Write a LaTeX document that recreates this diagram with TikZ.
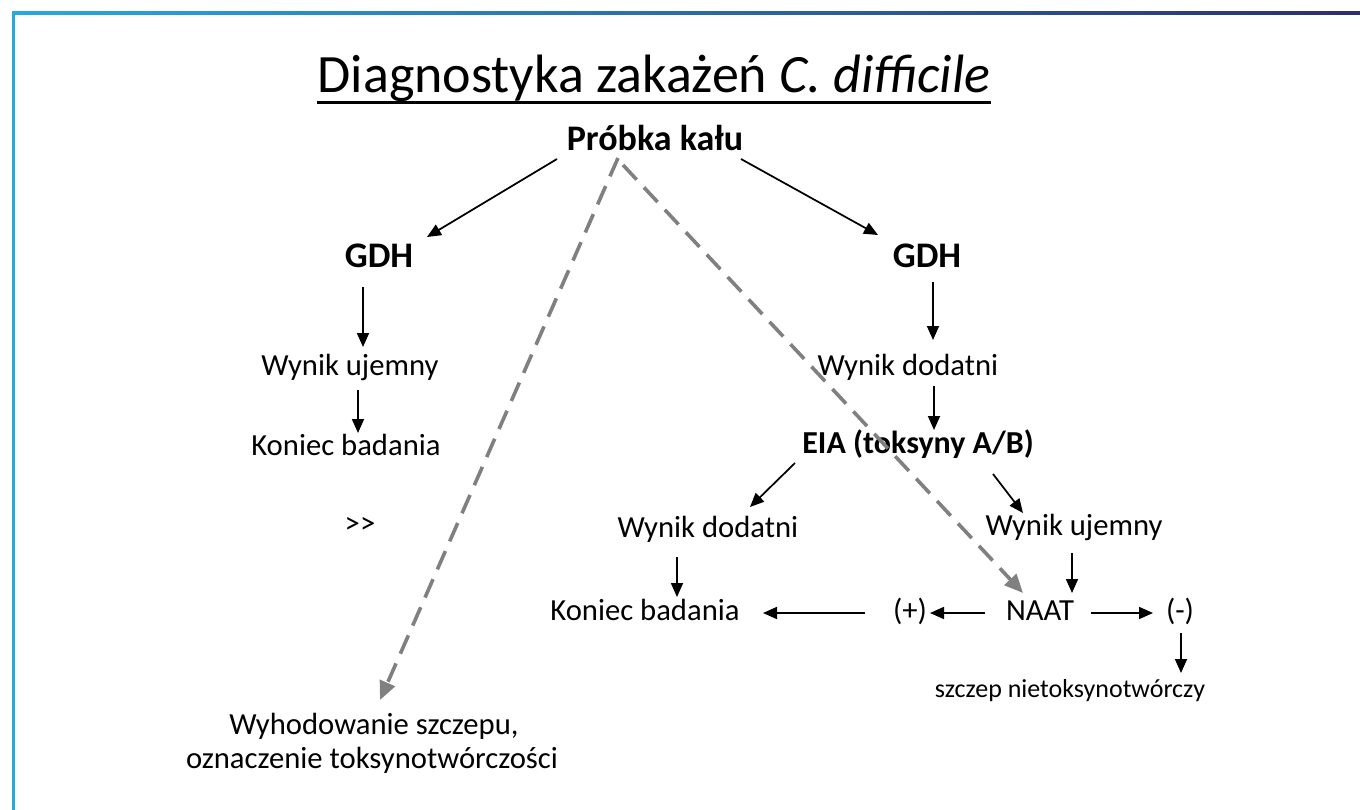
\documentclass[tikz,border=0pt]{standalone}
\usepackage{fontspec}
\setmainfont{Carlito}
\usetikzlibrary{arrows.meta}
\definecolor{bleft}{HTML}{29A8E0}
\definecolor{bright}{HTML}{2B2F6E}
\definecolor{dgray}{HTML}{808080}
\tikzset{
  txt/.style={inner sep=0pt, anchor=base, font=\fontsize{23}{27}\selectfont},
  bld/.style={inner sep=0pt, anchor=base, font=\fontsize{27}{32}\selectfont\bfseries},
  sml/.style={inner sep=0pt, anchor=base, font=\fontsize{19.5}{23}\selectfont},
  arr/.style={line width=1.3pt, -{Triangle[length=10.5pt,width=9pt]}},
  darr/.style={line width=2.7pt, dgray, dash pattern=on 15pt off 8pt, -{Triangle[length=14pt,width=12pt]}},
}
\begin{document}
\begin{tikzpicture}[x=0.75pt,y=-0.75pt]
\useasboundingbox (0,0) rectangle (1360,810);
\fill[white] (0,0) rectangle (1360,810);
\fill[bleft] (12,11) rectangle (15,810);
\shade[left color=bleft, right color=bright] (12,11) rectangle (1360,14);

\node[inner sep=0pt, anchor=base, font=\fontsize{40.5}{48}\selectfont] (title) at (654,92) {Diagnostyka zakażeń \textit{C. difficile}};
\draw[line width=2.4pt] ([yshift=-8pt]title.base west) -- ([yshift=-8pt]title.base east);

\node[bld] (probka) at (655,150) {Próbka kału};
\node[bld] (gdhL) at (379,267) {GDH};
\node[bld] (gdhR) at (927,267) {GDH};
\node[txt] (wuL) at (350,375) {Wynik ujemny};
\node[txt] (kbL) at (346,455) {Koniec badania};
\node[txt] (gt) at (360,533) {>\kern0pt>};
\node[txt] (wdR) at (908,375) {Wynik dodatni};
\node[inner sep=0pt, anchor=base, font=\fontsize{24}{28}\selectfont\bfseries] (eia) at (918,453) {EIA (toksyny A/B)};
\node[txt] (wdL) at (708,537) {Wynik dodatni};
\node[txt] (wuR) at (1074,535) {Wynik ujemny};
\node[txt] (kbR) at (645,620) {Koniec badania};
\node[txt] (plus) at (910,620) {(+)};
\node[txt] (naat) at (1040,620) {NAAT};
\node[txt] (minus) at (1180,620) {(-)};
\node[sml] (szczep) at (1070,697) {szczep nietoksynotwórczy};
\node[txt] (wyh1) at (374,734) {Wyhodowanie szczepu,};
\node[txt] (wyh2) at (372,768) {oznaczenie toksynotwórczości};

\draw[arr] ([shift={(-98,9)}]probka.base) -- ([shift={(48,-30)}]gdhL.base);
\draw[arr] ([shift={(86,9)}]probka.base) -- ([shift={(-49,-32)}]gdhR.base);
\draw[arr] ([shift={(-16,20)}]gdhL.base) -- ([shift={(13,-28)}]wuL.base);
\draw[arr] ([shift={(8,15)}]wuL.base) -- ([shift={(12,-22)}]kbL.base);
\draw[arr] ([shift={(6,15)}]gdhR.base) -- ([shift={(25,-35)}]wdR.base);
\draw[arr] ([shift={(26,11)}]wdR.base) -- ([shift={(16,-23)}]eia.base);
\draw[arr] ([shift={(-123,10)}]eia.base) -- ([shift={(42,-30)}]wdL.base);
\draw[arr] ([shift={(75,21)}]eia.base) -- ([shift={(-51,-22)}]wuR.base);
\draw[arr] ([shift={(-31,20)}]wdL.base) -- ([shift={(32,-23)}]kbR.base);
\draw[arr] ([shift={(-45,-7)}]plus.base) -- ([shift={(118,-7)}]kbR.base);
\draw[arr] ([shift={(-55,-7)}]naat.base) -- ([shift={(20,-7)}]plus.base);
\draw[arr] ([shift={(51,-7)}]naat.base) -- ([shift={(-27,-7)}]minus.base);
\draw[arr] ([shift={(-2,18)}]wuR.base) -- ([shift={(32,-27)}]naat.base);
\draw[arr] ([shift={(1,13)}]minus.base) -- ([shift={(111,-24)}]szczep.base);

\draw[darr] ([shift={(-37,8)}]probka.base) -- ([shift={(6,-34)}]wyh1.base);
\draw[darr] ([shift={(-32,15)}]probka.base) -- ([shift={(-17,-27)}]naat.base);
\end{tikzpicture}
\end{document}
